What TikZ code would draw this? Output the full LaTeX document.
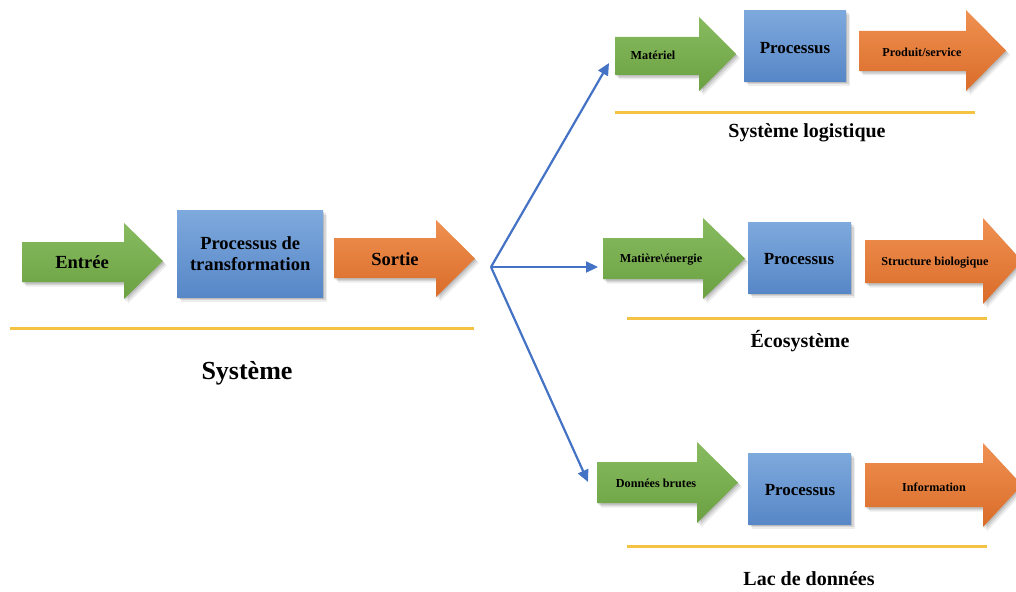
\documentclass[tikz,border=0pt]{standalone}
\usepackage{fontspec}
\setmainfont{Liberation Serif}
\usetikzlibrary{arrows.meta,shadows}

\definecolor{greenTop}{HTML}{88BB60}
\definecolor{greenBot}{HTML}{6BA142}
\definecolor{blueTop}{HTML}{7EA9DD}
\definecolor{blueBot}{HTML}{5787C7}
\definecolor{orangeTop}{HTML}{EF9152}
\definecolor{orangeBot}{HTML}{DA6C29}
\definecolor{ruleYellow}{HTML}{F5C343}
\definecolor{linkBlue}{HTML}{4472C4}

% block arrow: style, x left, x neck, x tip, body top, body bottom, head top, head bottom
\newcommand\blockarrow[8]{%
  \path[#1] (#2,#5) -- (#3,#5) -- (#3,#7) -- (#4,{(#7+#8)/2}) -- (#3,#8)
    -- (#3,#6) -- (#2,#6) -- cycle;}

\tikzset{
  % layered shadows give a soft edge
  softshadow/.style={
      drop shadow={shadow xshift=1pt, shadow yshift=-1.5pt, opacity=0.12, fill=black},
      drop shadow={shadow xshift=2.5pt, shadow yshift=-3pt, opacity=0.10, fill=black},
      drop shadow={shadow xshift=4pt, shadow yshift=-4.5pt, opacity=0.07, fill=black}},
  greenarrow/.style={top color=greenTop, bottom color=greenBot, softshadow},
  orangearrow/.style={top color=orangeTop, bottom color=orangeBot, softshadow},
  procbox/.style={top color=blueTop, bottom color=blueBot, softshadow,
      inner sep=0pt, anchor=north west},
  bigtxt/.style={font=\fontsize{18.5}{20.5}\selectfont\bfseries, align=center, inner sep=0pt},
  midtxt/.style={font=\fontsize{17}{20}\selectfont\bfseries, inner sep=0pt},
  smalltxt/.style={font=\fontsize{12.2}{14}\selectfont\bfseries, inner sep=0pt},
  titletxt/.style={font=\fontsize{20}{24}\selectfont\bfseries, inner sep=0pt},
  maintitle/.style={font=\fontsize{26}{30}\selectfont\bfseries, inner sep=0pt},
  baseline rule/.style={draw=ruleYellow, line width=3pt},
  link/.style={draw=linkBlue, line width=2.2pt, -{Triangle[length=12pt,width=11pt]}},
}

\begin{document}
\begin{tikzpicture}[x=1pt,y=-1pt]
\useasboundingbox (0,0) rectangle (1016,591);

% ---------------- general system ----------------
\blockarrow{greenarrow}{22}{124}{163}{242}{282}{223}{299}
\node[bigtxt] (entree) at (82,262) {Entrée};
\node[procbox, minimum width=146pt, minimum height=87pt] (trans) at (177,210) {};
\node[bigtxt] (transtxt) at (trans.center) {Processus de\\transformation};
\blockarrow{orangearrow}{334}{436}{475}{238}{278}{220}{297}
\node[bigtxt] (sortie) at (395,259) {Sortie};
\draw[baseline rule] (10,328) -- (474,328);
\node[maintitle] (systeme) at (247,373) {Système};

% ---------------- fork ----------------
\coordinate (fork) at (491,267);
\coordinate (toLog) at (609,63);
\coordinate (toEco) at (598,267);
\coordinate (toLac) at (588,482);
\draw[link] (fork) -- (toLog);
\draw[link] (fork) -- (toEco);
\draw[link] (fork) -- (toLac);

% ---------------- logistic system ----------------
\blockarrow{greenarrow}{615}{699}{736}{37}{75}{17}{91}
\node[smalltxt] (materiel) at (653,55) {Matériel};
\node[procbox, minimum width=102pt, minimum height=71pt] (procA) at (744,10) {};
\node[midtxt] (procAtxt) at (795,48) {Processus};
\blockarrow{orangearrow}{859}{966}{1006}{31}{71}{10}{91}
\node[smalltxt] (produit) at (922,52) {Produit/service};
\draw[baseline rule] (615,113) -- (975,113);
\node[titletxt] (logist) at (807,133) {Système logistique};

% ---------------- ecosystem ----------------
\blockarrow{greenarrow}{603}{703}{745}{238}{279}{218}{299}
\node[smalltxt] (matiere) at (661,260) {Matière\textbackslash énergie};
\node[procbox, minimum width=103pt, minimum height=71pt] (procB) at (748,222) {};
\node[midtxt] (procBtxt) at (799,259) {Processus};
\blockarrow{orangearrow}{865}{983}{1022}{240}{283}{218}{304}
\node[smalltxt] (structure) at (935,263) {Structure biologique};
\draw[baseline rule] (627,318) -- (987,318);
\node[titletxt] (eco) at (800,341) {Écosystème};

% ---------------- data lake ----------------
\blockarrow{greenarrow}{597}{697}{738}{462}{503}{442}{523}
\node[smalltxt] (donnees) at (656,483) {Données brutes};
\node[procbox, minimum width=103pt, minimum height=71pt] (procC) at (748,453) {};
\node[midtxt] (procCtxt) at (800,490) {Processus};
\blockarrow{orangearrow}{865}{983}{1022}{463}{507}{443}{527}
\node[smalltxt] (info) at (934,487) {Information};
\draw[baseline rule] (627,546) -- (987,546);
\node[titletxt] (lac) at (809,579) {Lac de données};

\end{tikzpicture}
\end{document}
